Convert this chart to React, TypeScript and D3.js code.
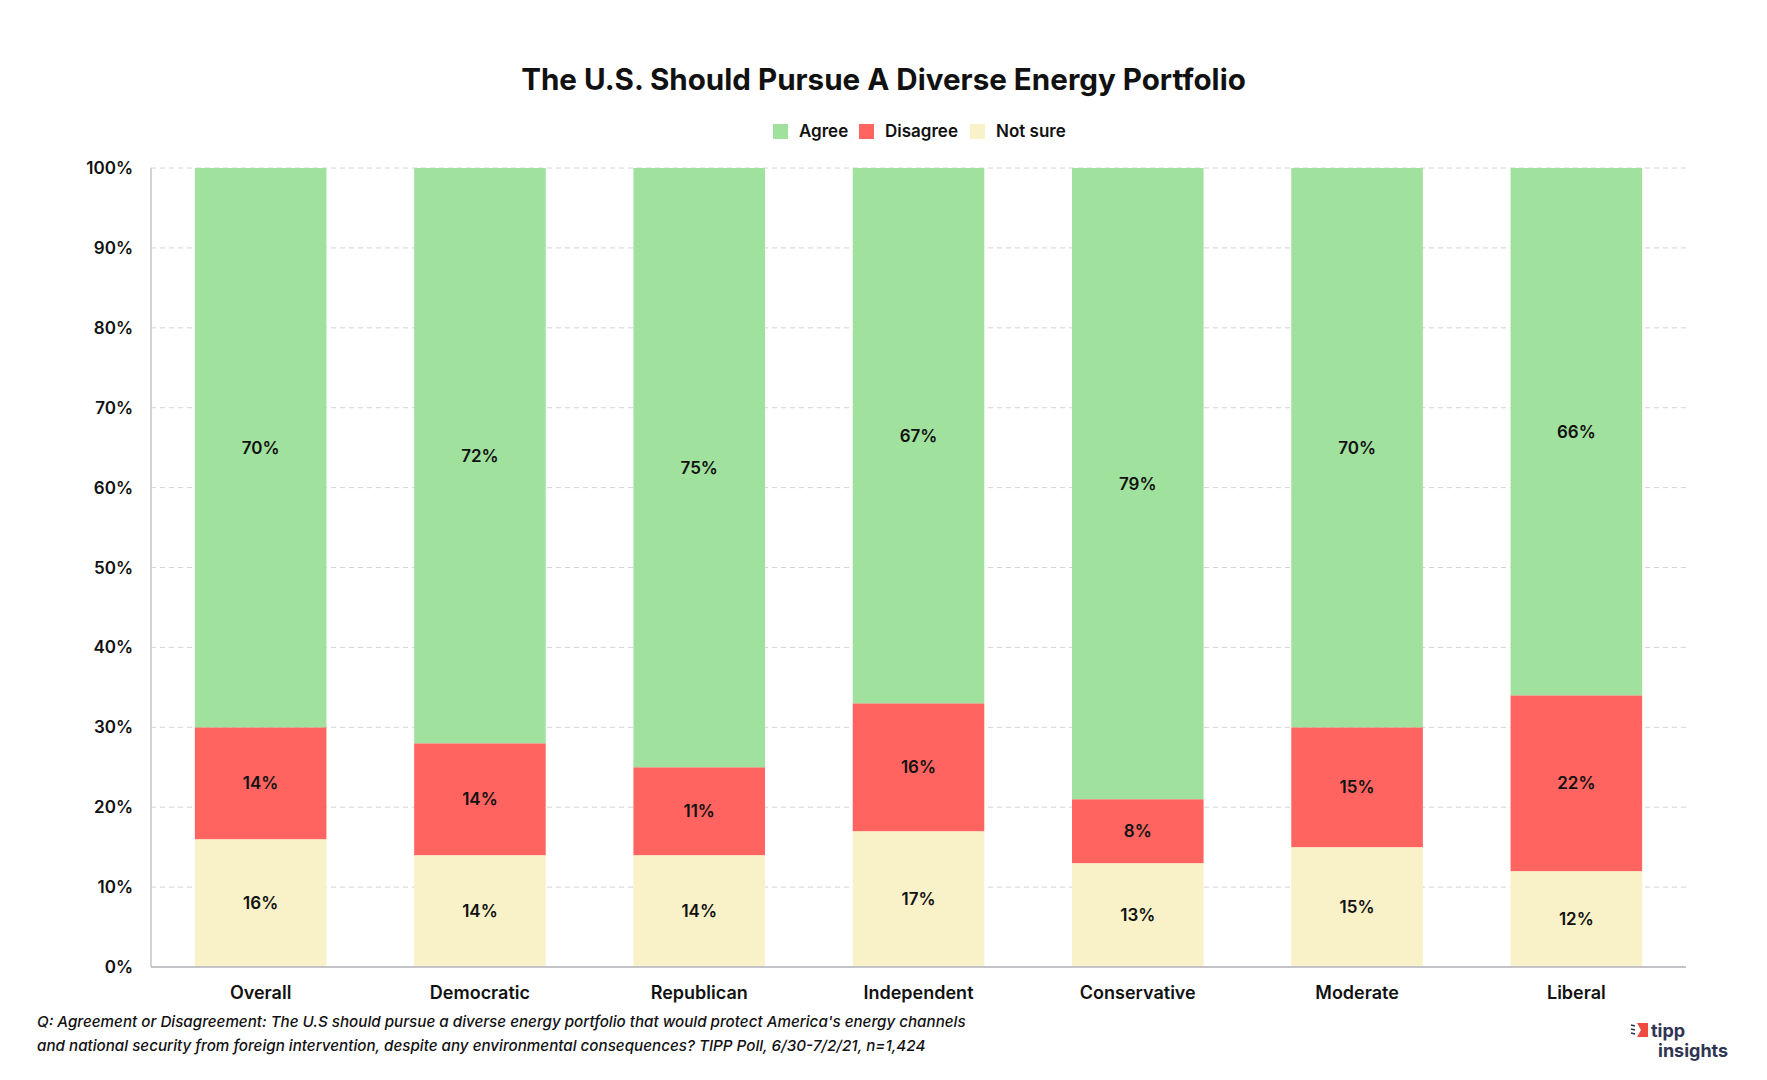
import { useEffect, useRef } from "react";
import * as d3 from "d3";

const categories = ["Overall", "Democratic", "Republican", "Independent", "Conservative", "Moderate", "Liberal"];
const notSure = [16, 14, 14, 17, 13, 15, 12];
const disagree = [14, 14, 11, 16, 8, 15, 22];
const agree = [70, 72, 75, 67, 79, 70, 66];
const seriesNames = ["Not sure", "Disagree", "Agree"];
const legendOrder = ["Agree", "Disagree", "Not sure"];
const yTicks = [0, 10, 20, 30, 40, 50, 60, 70, 80, 90, 100];

const colors: Record<string, string> = {
  Agree: "#a0e19e",
  Disagree: "#ff6461",
  "Not sure": "#f9f2c8",
};

const WIDTH = 1767;
const HEIGHT = 1080;
const FONT = "Inter, 'Open Sans', sans-serif";

export default function App() {
  const svgRef = useRef<SVGSVGElement | null>(null);

  useEffect(() => {
    if (!svgRef.current) return;
    document.body.style.margin = "0";

    const margin = { top: 168, right: 81, bottom: 113, left: 151 };
    const innerWidth = WIDTH - margin.left - margin.right;
    const innerHeight = HEIGHT - margin.top - margin.bottom;

    const svg = d3.select(svgRef.current);
    svg.selectAll("*").remove();

    svg.append("rect").attr("width", WIDTH).attr("height", HEIGHT).attr("fill", "#fff");

    // title
    svg
      .append("text")
      .attr("x", WIDTH / 2)
      .attr("y", 90)
      .attr("text-anchor", "middle")
      .attr("font-family", FONT)
      .attr("font-weight", 700)
      .attr("font-size", 29.6)
      .attr("fill", "#111")
      .text("The U.S. Should Pursue A Diverse Energy Portfolio");

    // legend
    const legendX = [773, 859, 970];
    legendOrder.forEach((name, i) => {
      const g = svg.append("g").attr("transform", `translate(${legendX[i]},${124})`);
      g.append("rect").attr("width", 15).attr("height", 15).attr("fill", colors[name]);
      g.append("text")
        .attr("x", 26)
        .attr("y", 13)
        .attr("font-family", FONT)
        .attr("font-weight", 600)
        .attr("font-size", 17)
        .attr("fill", "#111")
        .text(name);
    });

    const chart = svg.append("g").attr("transform", `translate(${margin.left},${margin.top})`);

    const x = d3.scaleBand<string>().domain(categories).range([0, innerWidth]).paddingInner(0.4).paddingOuter(0.2);
    const y = d3.scaleLinear().domain([0, 100]).range([innerHeight, 0]);

    // grid
    chart
      .append("g")
      .selectAll("line")
      .data(yTicks.filter((t) => t > 0))
      .join("line")
      .attr("x1", 0)
      .attr("x2", innerWidth)
      .attr("y1", (d) => y(d))
      .attr("y2", (d) => y(d))
      .attr("stroke", "#d4d4d4")
      .attr("stroke-dasharray", "5,4");

    // y labels
    chart
      .append("g")
      .selectAll("text")
      .data(yTicks)
      .join("text")
      .attr("x", -18)
      .attr("y", (d) => y(d) + 6)
      .attr("text-anchor", "end")
      .attr("font-family", FONT)
      .attr("font-weight", 600)
      .attr("font-size", 17)
      .attr("fill", "#111")
      .text((d) => `${d}%`);

    const rows = categories.map((c, i) => ({
      category: c,
      "Not sure": notSure[i],
      Disagree: disagree[i],
      Agree: agree[i],
    }));
    const stacked = d3.stack<any>().keys(seriesNames)(rows);

    stacked.forEach((layer) => {
      const g = chart.append("g");
      g.selectAll("rect")
        .data(layer)
        .join("rect")
        .attr("x", (d) => x(d.data.category) ?? 0)
        .attr("y", (d) => y(d[1]))
        .attr("width", x.bandwidth())
        .attr("height", (d) => y(d[0]) - y(d[1]))
        .attr("fill", colors[layer.key]);
      g.selectAll("text")
        .data(layer)
        .join("text")
        .attr("x", (d) => (x(d.data.category) ?? 0) + x.bandwidth() / 2)
        .attr("y", (d) => (y(d[0]) + y(d[1])) / 2 + 6)
        .attr("text-anchor", "middle")
        .attr("font-family", FONT)
        .attr("font-weight", 600)
        .attr("font-size", 17)
        .attr("fill", "#111")
        .text((d) => `${d[1] - d[0]}%`);
    });

    // axes lines
    chart
      .append("line")
      .attr("x1", 0)
      .attr("x2", 0)
      .attr("y1", 0)
      .attr("y2", innerHeight)
      .attr("stroke", "#c4c4c8")
      .attr("stroke-width", 1.5);
    chart
      .append("line")
      .attr("x1", 0)
      .attr("x2", innerWidth)
      .attr("y1", innerHeight)
      .attr("y2", innerHeight)
      .attr("stroke", "#c4c4c8")
      .attr("stroke-width", 2);

    // x labels
    chart
      .append("g")
      .selectAll("text")
      .data(categories)
      .join("text")
      .attr("x", (d) => (x(d) ?? 0) + x.bandwidth() / 2)
      .attr("y", innerHeight + 32)
      .attr("text-anchor", "middle")
      .attr("font-family", FONT)
      .attr("font-weight", 600)
      .attr("font-size", 18)
      .attr("fill", "#111")
      .text((d) => d);

    // footnote
    const notes = [
      "Q: Agreement or Disagreement: The U.S should pursue a diverse energy portfolio that would protect America's energy channels",
      "and national security from foreign intervention, despite any environmental consequences? TIPP Poll, 6/30-7/2/21, n=1,424",
    ];
    svg
      .append("g")
      .selectAll("text")
      .data(notes)
      .join("text")
      .attr("x", 37)
      .attr("y", (_, i) => 1027 + i * 24)
      .attr("font-family", FONT)
      .attr("font-style", "italic")
      .attr("font-weight", 500)
      .attr("font-size", 15.2)
      .attr("fill", "#111")
      .text((d) => d);

    // logo
    const logo = svg.append("g").attr("transform", "translate(1631,1022)");
    logo.append("path").attr("d", "M6,1 L17,1 L17,15 L6,15 L10,8 Z").attr("fill", "#ef4b3f");
    logo
      .append("g")
      .attr("stroke", "#2f3452")
      .attr("stroke-width", 1.4)
      .selectAll("line")
      .data([4, 8, 12])
      .join("line")
      .attr("x1", 0)
      .attr("x2", 4)
      .attr("y1", (d) => d - 1)
      .attr("y2", (d) => d);
    logo
      .append("text")
      .attr("x", 20)
      .attr("y", 15)
      .attr("font-family", FONT)
      .attr("font-weight", 700)
      .attr("font-size", 18)
      .attr("fill", "#2f3452")
      .text("tipp");
    logo
      .append("text")
      .attr("x", 27)
      .attr("y", 35)
      .attr("font-family", FONT)
      .attr("font-weight", 700)
      .attr("font-size", 18)
      .attr("fill", "#2f3452")
      .text("insights");
  }, []);

  return <svg ref={svgRef} width={WIDTH} height={HEIGHT} style={{ display: "block" }} />;
}
